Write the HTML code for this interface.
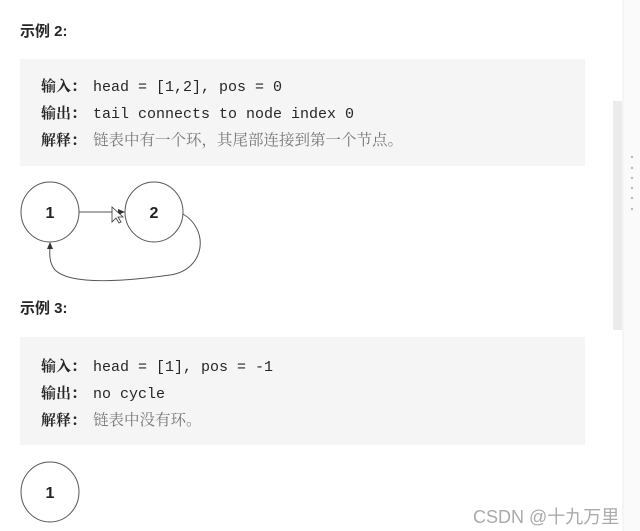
<!DOCTYPE html>
<html><head><meta charset="utf-8"><style>
body{margin:0;width:640px;height:531px;background:#fff;position:relative;overflow:hidden;font-family:"Liberation Sans","Noto Sans CJK SC",sans-serif}
.t{position:absolute;left:20px;font-weight:bold;font-size:15px;color:#262626}
.box{position:absolute;left:20px;width:565px;background:#f5f5f5}
.l{position:absolute;left:21px;font-size:16px;color:#262626;white-space:nowrap;line-height:20px}
.l b{display:inline-block;width:52px;font-family:"Noto Serif CJK SC",serif;font-weight:bold;font-size:15px}
.m{font-family:"Liberation Mono","DejaVu Sans Mono",monospace;font-size:15px}
.g{font-family:"Noto Serif CJK SC",serif;color:#777;font-size:15.5px}
</style></head><body>
<div class="t" style="top:20px">示例 2:</div>
<div class="box" style="top:59px;height:107px">
 <div class="l" style="top:17px"><b>输入：</b><span class="m">head = [1,2], pos = 0</span></div>
 <div class="l" style="top:44px"><b>输出：</b><span class="m">tail connects to node index 0</span></div>
 <div class="l" style="top:70px"><b>解释：</b><span class="g">链表中有一个环，其尾部连接到第一个节点。</span></div>
</div>
<div class="t" style="top:297px">示例 3:</div>
<div class="box" style="top:337px;height:108px">
 <div class="l" style="top:19px"><b>输入：</b><span class="m">head = [1], pos = -1</span></div>
 <div class="l" style="top:46px"><b>输出：</b><span class="m">no cycle</span></div>
 <div class="l" style="top:72px"><b>解释：</b><span class="g">链表中没有环。</span></div>
</div>
<svg width="640" height="531" style="position:absolute;left:0;top:0">
<g fill="none" stroke="#555" stroke-width="1">
<ellipse cx="50" cy="212" rx="29" ry="30"/>
<ellipse cx="154" cy="212" rx="29" ry="30"/>
<ellipse cx="50" cy="492" rx="29" ry="30"/>
<line x1="79" y1="212" x2="122" y2="212"/>
<path d="M183 214 C210 230 205 270 170 275 C120 282 70 285 55 270 C48 262 50 250 50 244"/>
</g>
<polygon points="125,212 118,209 118,215" fill="#333"/>
<polygon points="50,242 47,249 53,249" fill="#333"/>
<path d="M112 207 L112 222 L116 218 L119 223 L121 222 L118 217 L123 217 Z" fill="#fff" stroke="#333" stroke-width="0.8"/>
<g font-family="Liberation Sans,sans-serif" font-size="16" font-weight="bold" fill="#222" text-anchor="middle">
<text x="50" y="218">1</text><text x="154" y="218">2</text><text x="50" y="498">1</text>
</g>
<rect x="613" y="101" width="9" height="229" fill="#ebebeb"/>
<rect x="623" y="0" width="17" height="531" fill="#fafafa"/>
<line x1="623" y1="0" x2="623" y2="531" stroke="#eee"/>
<g fill="#bbb"><circle cx="632" cy="157" r="1.2"/><circle cx="632" cy="168" r="1.2"/><circle cx="632" cy="178" r="1.2"/><circle cx="632" cy="188" r="1.2"/><circle cx="632" cy="198" r="1.2"/><circle cx="632" cy="209" r="1.2"/></g>
<text x="473" y="523" font-family="Liberation Sans,Noto Sans CJK SC,sans-serif" font-size="18" fill="#aaa">CSDN @十九万里</text>
</svg>
</body></html>
